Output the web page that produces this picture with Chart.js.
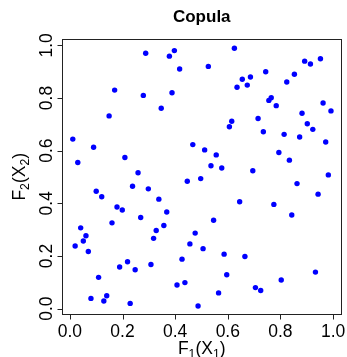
<!DOCTYPE html>
<html>
<head>
<meta charset="utf-8">
<script src="https://cdn.jsdelivr.net/npm/chart.js@4/dist/chart.umd.min.js"></script>
<style>
  html, body { margin: 0; padding: 0; background: #fff; }
  canvas { display: block; }
</style>
</head>
<body>
<canvas id="copulaChart" width="347" height="357"></canvas>
<script>
// pseudo-observations F1(X1), F2(X2)
const u1 = [
    0.288, 0.397, 0.378, 0.417, 0.170, 0.279, 0.388, 0.347, 0.149, 0.011,
    0.090, 0.467, 0.512, 0.030, 0.209, 0.259, 0.625, 0.526, 0.892, 0.914,
    0.952, 0.744, 0.853, 0.655, 0.686, 0.635, 0.674, 0.824, 0.756, 0.765,
    0.784, 0.962, 0.992, 0.882, 0.715, 0.615, 0.606, 0.902, 0.923, 0.735,
    0.814, 0.873, 0.972, 0.556, 0.794, 0.834, 0.536, 0.577, 0.695, 0.982,
    0.238, 0.298, 0.100, 0.121, 0.338, 0.446, 0.497, 0.179, 0.199, 0.368,
    0.269, 0.160, 0.041, 0.357, 0.328, 0.061, 0.318, 0.476, 0.051, 0.456,
    0.020, 0.506, 0.070, 0.426, 0.219, 0.308, 0.189, 0.248, 0.109, 0.407,
    0.437, 0.140, 0.080, 0.129, 0.229, 0.487, 0.863, 0.943, 0.645, 0.775,
    0.843, 0.546, 0.586, 0.665, 0.596, 0.933, 0.803, 0.705, 0.725, 0.565
];
const u2 = [
    0.970, 0.980, 0.959, 0.910, 0.830, 0.810, 0.820, 0.761, 0.732, 0.644,
    0.613, 0.623, 0.603, 0.555, 0.574, 0.516, 0.989, 0.920, 0.940, 0.929,
    0.949, 0.900, 0.890, 0.871, 0.880, 0.841, 0.849, 0.861, 0.791, 0.801,
    0.771, 0.781, 0.751, 0.742, 0.722, 0.712, 0.691, 0.702, 0.681, 0.672,
    0.662, 0.652, 0.633, 0.584, 0.593, 0.564, 0.543, 0.534, 0.524, 0.508,
    0.465, 0.455, 0.446, 0.425, 0.416, 0.484, 0.494, 0.386, 0.375, 0.367,
    0.346, 0.326, 0.307, 0.316, 0.297, 0.277, 0.267, 0.287, 0.257, 0.246,
    0.238, 0.228, 0.217, 0.188, 0.178, 0.168, 0.158, 0.148, 0.119, 0.090,
    0.099, 0.049, 0.039, 0.029, 0.020, 0.010, 0.475, 0.435, 0.406, 0.396,
    0.356, 0.336, 0.207, 0.198, 0.129, 0.139, 0.109, 0.080, 0.069, 0.060
];
const tickValues = [0, 0.2, 0.4, 0.6, 0.8, 1.0];
const tickLabels = ['0.0', '0.2', '0.4', '0.6', '0.8', '1.0'];

const FONT = "'Liberation Sans', Arial, Helvetica, sans-serif";
const fontSize = 17.5;

// draws e.g. F[1](X[1]) with subscripts, centred at 0,0 baseline
function drawSubLabel(ctx, sub) {
    const main = fontSize + 'px ' + FONT;
    const small = (fontSize * 0.7) + 'px ' + FONT;
    const parts = [['F', main, 0], [sub, small, 4], ['(X', main, 0], [sub, small, 4], [')', main, 0]];
    let total = 0;
    parts.forEach(p => { ctx.font = p[1]; total += ctx.measureText(p[0]).width; });
    let x = -total / 2;
    ctx.textAlign = 'left';
    ctx.textBaseline = 'alphabetic';
    parts.forEach(p => {
        ctx.font = p[1];
        ctx.fillText(p[0], x, p[2]);
        x += ctx.measureText(p[0]).width;
    });
}

const rAxes = {
    id: 'rAxes',
    afterDraw(chart) {
        const ctx = chart.ctx;
        const area = chart.chartArea;
        const xs = chart.scales.x;
        const ys = chart.scales.y;
        ctx.save();
        ctx.strokeStyle = '#222';
        ctx.fillStyle = '#000';
        ctx.lineWidth = 1;

        // box
        const l = Math.round(area.left) + 0.5, r = Math.round(area.right) - 0.5;
        const t = Math.round(area.top) + 0.5, b = Math.round(area.bottom) - 0.5;
        ctx.strokeRect(l, t, r - l, b - t);

        // tick marks
        ctx.beginPath();
        tickValues.forEach(v => {
            const px = Math.round(xs.getPixelForValue(v)) + 0.5;
            ctx.moveTo(px, b); ctx.lineTo(px, b + 5);
            const py = Math.round(ys.getPixelForValue(v)) + 0.5;
            ctx.moveTo(l, py); ctx.lineTo(l - 5, py);
        });
        ctx.stroke();

        // tick labels
        ctx.font = fontSize + 'px ' + FONT;
        ctx.textAlign = 'center';
        ctx.textBaseline = 'alphabetic';
        tickValues.forEach((v, i) => {
            ctx.fillText(tickLabels[i], xs.getPixelForValue(v), 336.5);
            ctx.save();
            ctx.translate(51.5, ys.getPixelForValue(v));
            ctx.rotate(-Math.PI / 2);
            ctx.fillText(tickLabels[i], 0, 0);
            ctx.restore();
        });

        // axis titles
        const cx = (area.left + area.right) / 2;
        const cy = (area.top + area.bottom) / 2;
        ctx.save();
        ctx.translate(cx, 354);
        drawSubLabel(ctx, '1');
        ctx.restore();
        ctx.save();
        ctx.translate(25, cy);
        ctx.rotate(-Math.PI / 2);
        drawSubLabel(ctx, '2');
        ctx.restore();

        // main title
        ctx.font = 'bold 17px ' + FONT;
        ctx.textAlign = 'center';
        ctx.fillText('Copula', cx, 22);
        ctx.restore();
    }
};

function renderChart() {
    const points = u1.map((x, i) => ({ x: x, y: u2[i] }));
    const ctx = document.getElementById('copulaChart').getContext('2d');
    new Chart(ctx, {
        type: 'scatter',
        data: {
            datasets: [{
                data: points,
                backgroundColor: '#0000ff',
                borderWidth: 0,
                pointRadius: 2.7,
                pointHoverRadius: 2.7
            }]
        },
        options: {
            responsive: false,
            animation: false,
            devicePixelRatio: 1,
            layout: { padding: { top: 38.5, right: 5.5, left: 0, bottom: 0 } },
            plugins: {
                legend: { display: false },
                tooltip: { enabled: false },
                title: { display: false }
            },
            scales: {
                x: {
                    type: 'linear',
                    min: -0.030,
                    max: 1.032,
                    grid: { display: false },
                    border: { display: false },
                    ticks: { display: false },
                    afterFit: scale => { scale.height = 42; }
                },
                y: {
                    type: 'linear',
                    min: -0.024,
                    max: 1.026,
                    grid: { display: false },
                    border: { display: false },
                    ticks: { display: false },
                    afterFit: scale => { scale.width = 62; }
                }
            }
        },
        plugins: [rAxes]
    });
}

document.addEventListener('DOMContentLoaded', renderChart);
</script>
</body>
</html>
